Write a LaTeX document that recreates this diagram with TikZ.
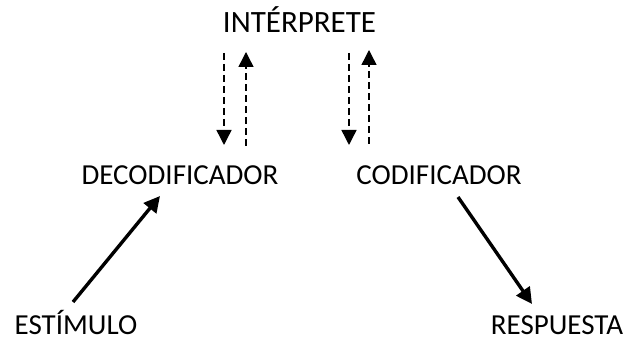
\documentclass[tikz,border=0pt]{standalone}
\usepackage{fontspec}
\setmainfont{Carlito}
\usetikzlibrary{arrows.meta}
\tikzset{
  lbl/.style={anchor=base,inner sep=0pt,text depth=0pt,font=\fontsize{14.5}{17}\selectfont},
  loop/.style={dash pattern=on 3.5pt off 2pt,line width=0.7pt,-{Triangle[width=7.5pt,length=7.5pt]}},
  flow/.style={line width=1.7pt,-{Triangle[width=8pt,length=8pt]}}
}
\begin{document}
\begin{tikzpicture}[x=0.5pt,y=-0.5pt]
    \useasboundingbox (0,0) rectangle (626,341);
    \node[lbl,font=\fontsize{15.5}{18}\selectfont] (interp) at (299.5,33) {INTÉRPRETE};
    \node[lbl] (dec) at (180,185) {DECODIFICADOR};
    \node[lbl] (cod) at (439,185) {CODIFICADOR};
    \node[lbl] (estim) at (76,335) {ESTÍMULO};
    \node[lbl] (resp) at (557,335) {RESPUESTA};
    % ends of the dashed arrows
    \coordinate (a1) at (224,53);  \coordinate (b1) at (224,145);
    \coordinate (a2) at (246,146); \coordinate (b2) at (246,52);
    \coordinate (a3) at (349,53);  \coordinate (b3) at (349,145);
    \coordinate (a4) at (369,144); \coordinate (b4) at (369,50);
    \draw[loop] (a1)--(b1);
    \draw[loop] (a2)--(b2);
    \draw[loop] (a3)--(b3);
    \draw[loop] (a4)--(b4);
    % stimulus in, response out
    \coordinate (s0) at (73,302); \coordinate (s1) at (160,196);
    \coordinate (r0) at (458,197); \coordinate (r1) at (532,304);
    \draw[flow] (s0)--(s1);
    \draw[flow] (r0)--(r1);
\end{tikzpicture}
\end{document}
